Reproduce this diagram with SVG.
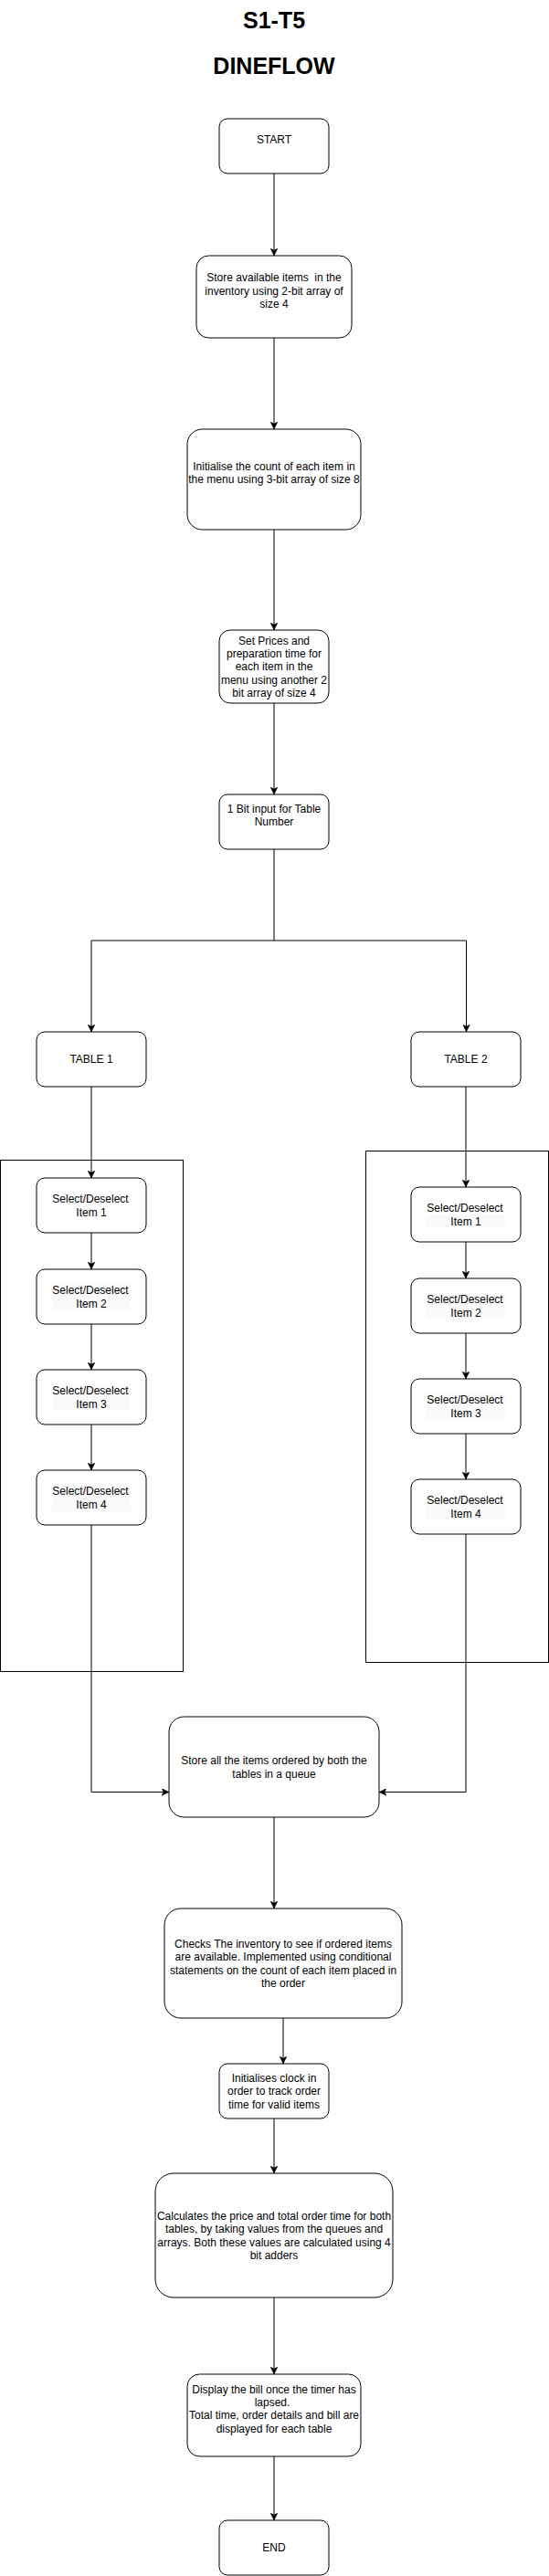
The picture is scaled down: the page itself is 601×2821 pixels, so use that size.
<svg xmlns="http://www.w3.org/2000/svg" width="601" height="2821" viewBox="0 0 601 2821">
<style>
.n{fill:#ffffff;stroke:#000000;stroke-width:1}
.c{fill:none;stroke:#000000;stroke-width:1}
.t{font-family:"Liberation Sans",Arial,Helvetica,sans-serif;font-size:12px;fill:#000000;text-anchor:middle}
.h{font-family:"Liberation Sans",Arial,Helvetica,sans-serif;font-size:25px;font-weight:bold;fill:#000000;text-anchor:middle}
.hl{fill:#fafafa;stroke:none}
.box{fill:none;stroke:#000000;stroke-width:1}
</style>
<defs>
<marker id="arr" viewBox="0 0 10 10" refX="10" refY="5" markerWidth="8" markerHeight="8" markerUnits="userSpaceOnUse" orient="auto">
<path d="M0,0 L10,5 L0,10 L2.5,5 z" fill="#000000" stroke="#000000" stroke-width="0.5"/>
</marker>
</defs>
<rect width="601" height="2821" fill="#ffffff"/>
<g id="title">
<text class="h" x="300" y="31">S1-T5</text>
<text class="h" x="300" y="81">DINEFLOW</text>
</g>
<g id="containers">
<rect class="box" x="0.5" y="1270.5" width="200" height="560"/>
<rect class="box" x="400.5" y="1260.5" width="200" height="560"/>
</g>
<g id="connectors">
<path class="c" d="M300,190 V280" marker-end="url(#arr)"/>
<path class="c" d="M300,370 V470" marker-end="url(#arr)"/>
<path class="c" d="M300,580 V690" marker-end="url(#arr)"/>
<path class="c" d="M300,770 V870" marker-end="url(#arr)"/>
<path class="c" d="M300,930 V1030 H100 V1130" marker-end="url(#arr)"/>
<path class="c" d="M300,1030 H510.5 V1130" marker-end="url(#arr)"/>
<path class="c" d="M100,1190 V1290" marker-end="url(#arr)"/>
<path class="c" d="M100,1350 V1390" marker-end="url(#arr)"/>
<path class="c" d="M100,1450 V1500" marker-end="url(#arr)"/>
<path class="c" d="M100,1560 V1610" marker-end="url(#arr)"/>
<path class="c" d="M100,1670 V1962.5 H185" marker-end="url(#arr)"/>
<path class="c" d="M510,1190 V1300" marker-end="url(#arr)"/>
<path class="c" d="M510,1360 V1400" marker-end="url(#arr)"/>
<path class="c" d="M510,1460 V1510" marker-end="url(#arr)"/>
<path class="c" d="M510,1570 V1620" marker-end="url(#arr)"/>
<path class="c" d="M510,1680 V1962.5 H415" marker-end="url(#arr)"/>
<path class="c" d="M300,1990 V2090" marker-end="url(#arr)"/>
<path class="c" d="M310,2210 V2260" marker-end="url(#arr)"/>
<path class="c" d="M300,2320 V2380" marker-end="url(#arr)"/>
<path class="c" d="M300,2516 V2600" marker-end="url(#arr)"/>
<path class="c" d="M300,2690 V2760" marker-end="url(#arr)"/>
</g>
<g id="start">
<rect class="n" x="240" y="130" width="120" height="60" rx="9" ry="9"/>
<text class="t" x="300" y="157">START</text>
</g>
<g id="store-items">
<rect class="n" x="215" y="280" width="170" height="90" rx="13.5" ry="13.5"/>
<text class="t" x="300" y="308" xml:space="preserve">Store available items  in the</text>
<text class="t" x="300" y="322.5">inventory using 2-bit array of</text>
<text class="t" x="300" y="337">size 4</text>
</g>
<g id="init-count">
<rect class="n" x="205" y="470" width="190" height="110" rx="16.5" ry="16.5"/>
<text class="t" x="300" y="515">Initialise the count of each item in</text>
<text class="t" x="300" y="529">the menu using 3-bit array of size 8</text>
</g>
<g id="set-prices">
<rect class="n" x="240" y="690" width="120" height="80" rx="12" ry="12"/>
<text class="t" x="300" y="706">Set Prices and</text>
<text class="t" x="300" y="720">preparation time for</text>
<text class="t" x="300" y="734">each item in the</text>
<text class="t" x="300" y="748.5">menu using another 2</text>
<text class="t" x="300" y="763">bit array of size 4</text>
</g>
<g id="table-input">
<rect class="n" x="240" y="870" width="120" height="60" rx="9" ry="9"/>
<text class="t" x="300" y="890">1 Bit input for Table</text>
<text class="t" x="300" y="904">Number</text>
</g>
<g id="table1">
<rect class="n" x="40" y="1130" width="120" height="60" rx="9" ry="9"/>
<text class="t" x="100" y="1164">TABLE 1</text>
</g>
<g id="table2">
<rect class="n" x="450" y="1130" width="120" height="60" rx="9" ry="9"/>
<text class="t" x="510" y="1164">TABLE 2</text>
</g>
<g id="t1-item1">
<rect class="n" x="40" y="1290" width="120" height="60" rx="9" ry="9"/>
<text class="t" x="99" y="1317">Select/Deselect</text>
<text class="t" x="100" y="1332">Item 1</text>
</g>
<g id="t1-item2">
<rect class="n" x="40" y="1390" width="120" height="60" rx="9" ry="9"/>
<rect class="hl" x="57" y="1405" width="86" height="30"/>
<text class="t" x="99" y="1417">Select/Deselect</text>
<text class="t" x="100" y="1432">Item 2</text>
</g>
<g id="t1-item3">
<rect class="n" x="40" y="1500" width="120" height="60" rx="9" ry="9"/>
<rect class="hl" x="57" y="1515" width="86" height="30"/>
<text class="t" x="99" y="1527">Select/Deselect</text>
<text class="t" x="100" y="1542">Item 3</text>
</g>
<g id="t1-item4">
<rect class="n" x="40" y="1610" width="120" height="60" rx="9" ry="9"/>
<rect class="hl" x="57" y="1625" width="86" height="30"/>
<text class="t" x="99" y="1637">Select/Deselect</text>
<text class="t" x="100" y="1652">Item 4</text>
</g>
<g id="t2-item1">
<rect class="n" x="450" y="1300" width="120" height="60" rx="9" ry="9"/>
<rect class="hl" x="467" y="1330" width="86" height="15"/>
<text class="t" x="509" y="1327">Select/Deselect</text>
<text class="t" x="510" y="1342">Item 1</text>
</g>
<g id="t2-item2">
<rect class="n" x="450" y="1400" width="120" height="60" rx="9" ry="9"/>
<rect class="hl" x="467" y="1415" width="86" height="30"/>
<text class="t" x="509" y="1427">Select/Deselect</text>
<text class="t" x="510" y="1442">Item 2</text>
</g>
<g id="t2-item3">
<rect class="n" x="450" y="1510" width="120" height="60" rx="9" ry="9"/>
<rect class="hl" x="467" y="1525" width="86" height="30"/>
<text class="t" x="509" y="1537">Select/Deselect</text>
<text class="t" x="510" y="1552">Item 3</text>
</g>
<g id="t2-item4">
<rect class="n" x="450" y="1620" width="120" height="60" rx="9" ry="9"/>
<rect class="hl" x="467" y="1635" width="86" height="30"/>
<text class="t" x="509" y="1647">Select/Deselect</text>
<text class="t" x="510" y="1662">Item 4</text>
</g>
<g id="queue">
<rect class="n" x="185" y="1880" width="230" height="110" rx="16.5" ry="16.5"/>
<text class="t" x="300" y="1932">Store all the items ordered by both the</text>
<text class="t" x="300" y="1947">tables in a queue</text>
</g>
<g id="check-inventory">
<rect class="n" x="180" y="2090" width="260" height="120" rx="18" ry="18"/>
<text class="t" x="310" y="2133">Checks The inventory to see if ordered items</text>
<text class="t" x="310" y="2147">are available. Implemented using conditional</text>
<text class="t" x="310" y="2161.5">statements on the count of each item placed in</text>
<text class="t" x="310" y="2176">the order</text>
</g>
<g id="clock">
<rect class="n" x="240" y="2260" width="120" height="60" rx="9" ry="9"/>
<text class="t" x="300" y="2280">Initialises clock in</text>
<text class="t" x="300" y="2294.3">order to track order</text>
<text class="t" x="300" y="2308.6">time for valid items</text>
</g>
<g id="calculate">
<rect class="n" x="170" y="2380" width="260" height="136" rx="20" ry="20"/>
<text class="t" x="300" y="2431">Calculates the price and total order time for both</text>
<text class="t" x="300" y="2445.3">tables, by taking values from the queues and</text>
<text class="t" x="300" y="2460">arrays. Both these values are calculated using 4</text>
<text class="t" x="300" y="2474.3">bit adders</text>
</g>
<g id="display-bill">
<rect class="n" x="205" y="2600" width="190" height="90" rx="13.5" ry="13.5"/>
<text class="t" x="300" y="2621">Display the bill once the timer has</text>
<text class="t" x="298" y="2635">lapsed.</text>
<text class="t" x="300" y="2649.3">Total time, order details and bill are</text>
<text class="t" x="300" y="2663.6">displayed for each table</text>
</g>
<g id="end">
<rect class="n" x="240" y="2760" width="120" height="60" rx="9" ry="9"/>
<text class="t" x="300" y="2794">END</text>
</g>
</svg>
